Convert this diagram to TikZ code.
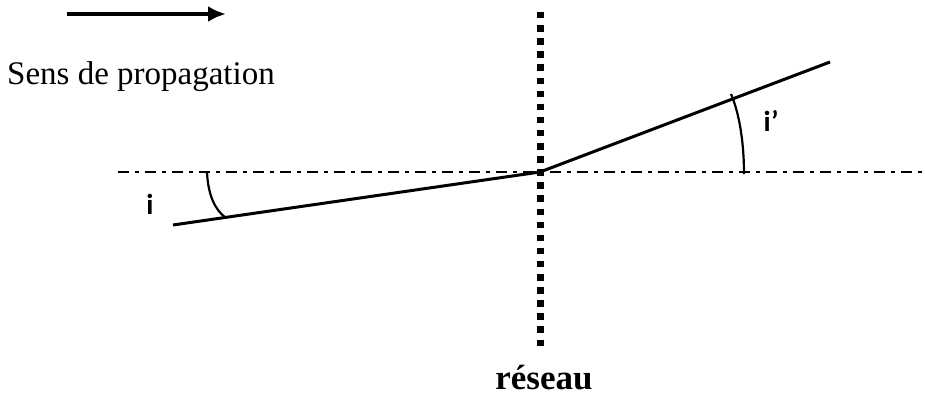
\documentclass[tikz,border=0pt]{standalone}
\usepackage{fontspec}
\usetikzlibrary{arrows.meta}
\setmainfont{Liberation Serif}
\newfontfamily\lblfont{Carlito}
\begin{document}
\begin{tikzpicture}[x=1pt,y=-1pt,
  ray/.style={line width=3pt},
  axisline/.style={line width=2.6pt, dash pattern=on 11pt off 6pt on 4pt off 6pt},
  anglearc/.style={line width=2.2pt},
  lbl/.style={font=\lblfont\bfseries\fontsize{29}{32}\selectfont, inner sep=0pt}]
\useasboundingbox (0,0) rectangle (925,396);
% propagation arrow
\coordinate (a1) at (67,14);
\coordinate (a2) at (226,14);
\draw[line width=4pt,-{Latex[length=18pt,width=16pt]}] (a1) -- (a2);
\node[anchor=base west, inner sep=0pt, font=\fontsize{33}{36}\selectfont] (sens) at (7,84) {Sens de propagation};
% grating
\coordinate (g1) at (540,12);
\coordinate (g2) at (540,346);
\draw[line width=7pt, dash pattern=on 6.5pt off 6.6pt] (g1) -- (g2);
\node[anchor=base, inner sep=0pt, font=\bfseries\fontsize{35}{38}\selectfont] (reseau) at (544,389) {réseau};
% axis
\coordinate (ax1) at (118,172);
\coordinate (ax2) at (925,172);
\draw[axisline] (ax1) -- (ax2);
% rays
\coordinate (O) at (540,172);
\coordinate (in) at (173,225);
\coordinate (out) at (830,62);
\draw[ray] (in) -- (O) -- (out);
% angle arcs
\coordinate (i1) at (207,172);
\coordinate (i2) at (226,218);
\draw[anglearc] (i1) .. controls (208,195) and (215,210) .. (i2);
\coordinate (j1) at (731,94);
\coordinate (j2) at (744,174);
\draw[anglearc] (j1) .. controls (740,115) and (744,145) .. (j2);
\node[lbl] (li) at (150,204) {i};
\node[lbl] (lj) at (771,121) {i’};
\end{tikzpicture}
\end{document}
